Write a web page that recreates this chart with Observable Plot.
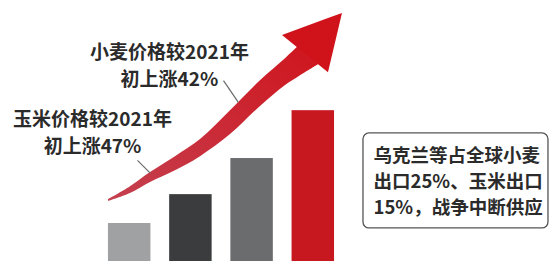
<!DOCTYPE html>
<html>
<head>
<meta charset="utf-8">
<script src="https://cdn.jsdelivr.net/npm/d3@7"></script>
<script src="https://cdn.jsdelivr.net/npm/@observablehq/plot@0.6"></script>
<style>
  html, body { margin: 0; padding: 0; background: #ffffff; }
  #chart { width: 550px; height: 261px; overflow: hidden; }
</style>
</head>
<body>
<div id="chart"></div>
<script>
// ---- data (bar heights as a relative index) ----
const barIndex  = [1, 2, 3, 4];
const barValues = [100, 176, 271, 397];
const barColors = ["#a0a1a3", "#3b3c3d", "#6b6c6e", "#c7181f"];

// rising arrow shaft: position along x, lower and upper edge (chart units)
const shaftX  = [0.654, 1.013, 1.340, 1.748, 2.157, 2.647, 3.137, 3.546, 3.791, 4.085];
const shaftLo = [158, 179, 208, 239, 276, 334, 408, 463, 489, 518];
const shaftHi = [163, 197, 234, 276, 321, 397, 476, 534, 571, 613];
// arrow head (triangle as an area)
const headX  = [3.497, 4.248, 4.477];
const headLo = [595, 497, 653];
const headHi = [595, 639.5, 653];

// annotations
const labelTexts = ["小麦价格较2021年\n初上涨42%", "玉米价格较2021年\n初上涨47%"];
const labelX = [1.650, 0.392];
const labelY = [520, 345];
const leaderX1 = [2.533, 1.127], leaderY1 = [476, 266];
const leaderX2 = [2.778, 1.340], leaderY2 = [418, 232];
const boxText = "乌克兰等占全球小麦\n出口25%、玉米出口\n15%，战争中断供应";
const boxX1 = 4.820, boxX2 = 7.843, boxY1 = 87, boxY2 = 337;
const boxTextX = 4.984, boxTextY = 216;

// ---- tables built from the arrays ----
const bars = barIndex.map((i, k) => ({i, v: barValues[k], c: barColors[k]}));
const shaft = shaftX.map((x, k) => ({x, lo: shaftLo[k], hi: shaftHi[k]}));
const head = headX.map((x, k) => ({x, lo: headLo[k], hi: headHi[k]}));
const labels = labelTexts.map((t, k) => ({t, x: labelX[k], y: labelY[k]}));
const leaders = leaderX1.map((x, k) => ({x1: x, y1: leaderY1[k], x2: leaderX2[k], y2: leaderY2[k]}));

const font = "'Noto Sans CJK SC', 'Noto Sans', sans-serif";

const svg = Plot.plot({
  width: 550,
  height: 261,
  marginLeft: 68,
  marginRight: 0,
  marginTop: 0,
  marginBottom: 0,
  x: {type: "linear", domain: [0, 7.876], axis: null},
  y: {type: "linear", domain: [0, 687], axis: null},
  style: {background: "#ffffff", overflow: "hidden"},
  marks: [
    Plot.rectY(bars, {x1: d => d.i - 0.347, x2: d => d.i + 0.347, y1: 0, y2: "v", fill: "c"}),
    Plot.area(shaft, {x1: "x", y1: "lo", y2: "hi", fill: "url(#arrowGrad)", curve: "catmull-rom"}),
    Plot.area(head, {x1: "x", y1: "lo", y2: "hi", fill: "#d0131b", curve: "linear"}),
    Plot.link(leaders, {x1: "x1", y1: "y1", x2: "x2", y2: "y2", stroke: "#6a6a6a", strokeWidth: 1.2}),
    Plot.text(labels, {x: "x", y: "y", text: "t", fontFamily: font, fontSize: 19, fontWeight: "bold",
      fill: "#2b2b2b", textAnchor: "middle", lineAnchor: "middle", lineHeight: 1.42}),
    Plot.rect([{}], {x1: boxX1, x2: boxX2, y1: boxY1, y2: boxY2, fill: "#ffffff", stroke: "#555555",
      strokeWidth: 1.3, rx: 6}),
    Plot.text([boxText], {x: boxTextX, y: boxTextY, text: d => d, fontFamily: font, fontSize: 18.5,
      fontWeight: "bold", fill: "#2b2b2b", textAnchor: "start", lineAnchor: "middle", lineHeight: 1.4})
  ]
});

// gradient for the arrow shaft (pinkish tail to bright red)
const defs = d3.select(svg).insert("defs", ":first-child");
const g = defs.append("linearGradient").attr("id", "arrowGrad")
  .attr("x1", "0").attr("y1", "1").attr("x2", "1").attr("y2", "0");
g.append("stop").attr("offset", "0%").attr("stop-color", "#c4404f");
g.append("stop").attr("offset", "100%").attr("stop-color", "#d0131b");

document.getElementById("chart").appendChild(svg);
</script>
</body>
</html>
